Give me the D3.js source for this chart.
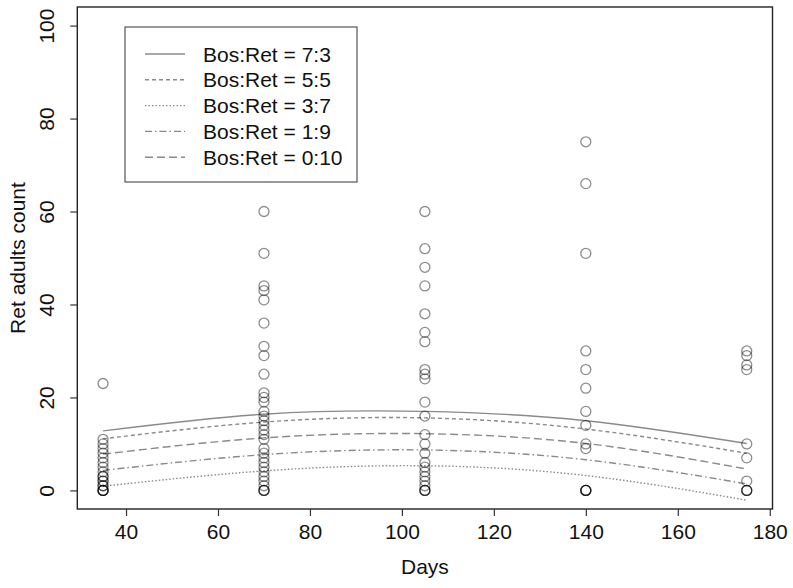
<!DOCTYPE html>
<html>
<head>
<meta charset="utf-8">
<script src="https://cdn.jsdelivr.net/npm/d3@7"></script>
<style>
  html, body { margin: 0; padding: 0; background: #fff; }
  svg text { font-family: "Liberation Sans", Arial, sans-serif; fill: #111; }
</style>
</head>
<body>
<svg id="chart" width="793" height="588"></svg>
<script>
// ---- data ----
const days = [35, 70, 105, 140, 175];
const counts35  = [0, 0, 0, 0, 1, 1, 2, 2, 3, 3, 4, 5, 6, 7, 8, 9, 10, 11, 23];
const counts70  = [60, 51, 44, 43, 41, 36, 31, 29, 25, 21, 20, 19, 17, 16, 15, 14, 13, 12, 11, 9, 8, 7, 6, 5, 4, 3, 2, 1, 0, 0, 0];
const counts105 = [60, 52, 48, 44, 38, 34, 32, 26, 25, 24, 19, 16, 12, 10, 8, 6, 5, 4, 3, 2, 1, 0, 0, 0];
const counts140 = [75, 66, 51, 30, 26, 22, 17, 14, 10, 9, 0, 0, 0, 0];
const counts175 = [30, 29, 27, 26, 10, 7, 2, 0, 0, 0];
const seriesNames = ["Bos:Ret = 7:3", "Bos:Ret = 5:5", "Bos:Ret = 3:7", "Bos:Ret = 1:9", "Bos:Ret = 0:10"];
const fit73  = [12.8, 16.4, 17.0, 15.0, 10.1];
const fit55  = [11.1, 14.7, 15.6, 13.2, 8.0];
const fit37  = [0.9, 4.2, 5.3, 3.2, -2.1];
const fit19  = [4.3, 7.7, 8.7, 6.6, 1.4];
const fit010 = [7.8, 11.3, 12.2, 10.1, 4.6];
const xTicks = [40, 60, 80, 100, 120, 140, 160, 180];
const yTicks = [0, 20, 40, 60, 80, 100];

// ---- build ----
const pointCols = [counts35, counts70, counts105, counts140, counts175];
const points = [];
pointCols.forEach((col, i) => col.forEach(v => points.push({ d: days[i], v })));
const fits = [fit73, fit55, fit37, fit19, fit010];
const dashes = [null, "4,3", "1.5,2", "7,3,1.5,3", "8,4"];

const svg = d3.select("#chart");
const L = 77.3, R = 772.5, T = 7, B = 509;
const x = d3.scaleLinear().domain([29.4, 180.6]).range([L, R]);
const y = d3.scaleLinear().domain([-4, 104]).range([B, T]);
const FS = 21;

// box
svg.append("rect").attr("x", L).attr("y", T).attr("width", R - L).attr("height", B - T)
  .attr("fill", "none").attr("stroke", "#222").attr("stroke-width", 1.4);

// x axis
const xAxis = d3.axisBottom(x).tickValues(xTicks).tickSize(7).tickPadding(8).tickFormat(d3.format("d"));
const gx = svg.append("g").attr("transform", `translate(0,${B})`).call(xAxis);
gx.select(".domain").remove();
gx.selectAll("line").attr("stroke", "#333").attr("stroke-width", 1.2);
gx.selectAll("text").attr("font-size", FS).attr("fill", "#111").style("font-family", "Liberation Sans, Arial, sans-serif");

// y axis
const yAxis = d3.axisLeft(y).tickValues(yTicks).tickSize(7).tickFormat(d3.format("d"));
const gy = svg.append("g").attr("transform", `translate(${L},0)`).call(yAxis);
gy.select(".domain").remove();
gy.selectAll("line").attr("stroke", "#333").attr("stroke-width", 1.2);
gy.selectAll("text")
  .attr("font-size", FS).attr("fill", "#111").style("font-family", "Liberation Sans, Arial, sans-serif")
  .attr("x", null).attr("dy", null)
  .attr("text-anchor", "middle")
  .attr("transform", `translate(${54 - L},0) rotate(-90)`);

// axis titles
svg.append("text").attr("x", (L + R) / 2).attr("y", 574).attr("text-anchor", "middle")
  .attr("font-size", FS).text("Days");
svg.append("text").attr("transform", `translate(25,${(T + B) / 2}) rotate(-90)`)
  .attr("text-anchor", "middle").attr("font-size", FS).text("Ret adults count");

// fitted curves
const line = d3.line().x((d, i) => x(days[i])).y(d => y(d)).curve(d3.curveNatural);
fits.forEach((f, k) => {
  svg.append("path").attr("d", line(f)).attr("fill", "none")
    .attr("stroke", "#8a8a8a").attr("stroke-width", 1.4)
    .attr("stroke-dasharray", dashes[k]);
});

// points
svg.append("g").selectAll("circle").data(points).join("circle")
  .attr("cx", d => x(d.d)).attr("cy", d => y(d.v)).attr("r", 5)
  .attr("fill", "none").attr("stroke", "#000").attr("stroke-opacity", 0.45).attr("stroke-width", 1.3);

// legend
const lg = svg.append("g");
lg.append("rect").attr("x", 125).attr("y", 27).attr("width", 232).attr("height", 155)
  .attr("fill", "#fff").attr("stroke", "#555").attr("stroke-width", 1.2);
seriesNames.forEach((name, k) => {
  const cy = 54 + k * 25.8;
  lg.append("line").attr("x1", 145).attr("x2", 185).attr("y1", cy).attr("y2", cy)
    .attr("stroke", "#8a8a8a").attr("stroke-width", 1.4).attr("stroke-dasharray", dashes[k]);
  lg.append("text").attr("x", 203).attr("y", cy).attr("dy", "0.36em")
    .attr("font-size", FS).text(name);
});
</script>
</body>
</html>
